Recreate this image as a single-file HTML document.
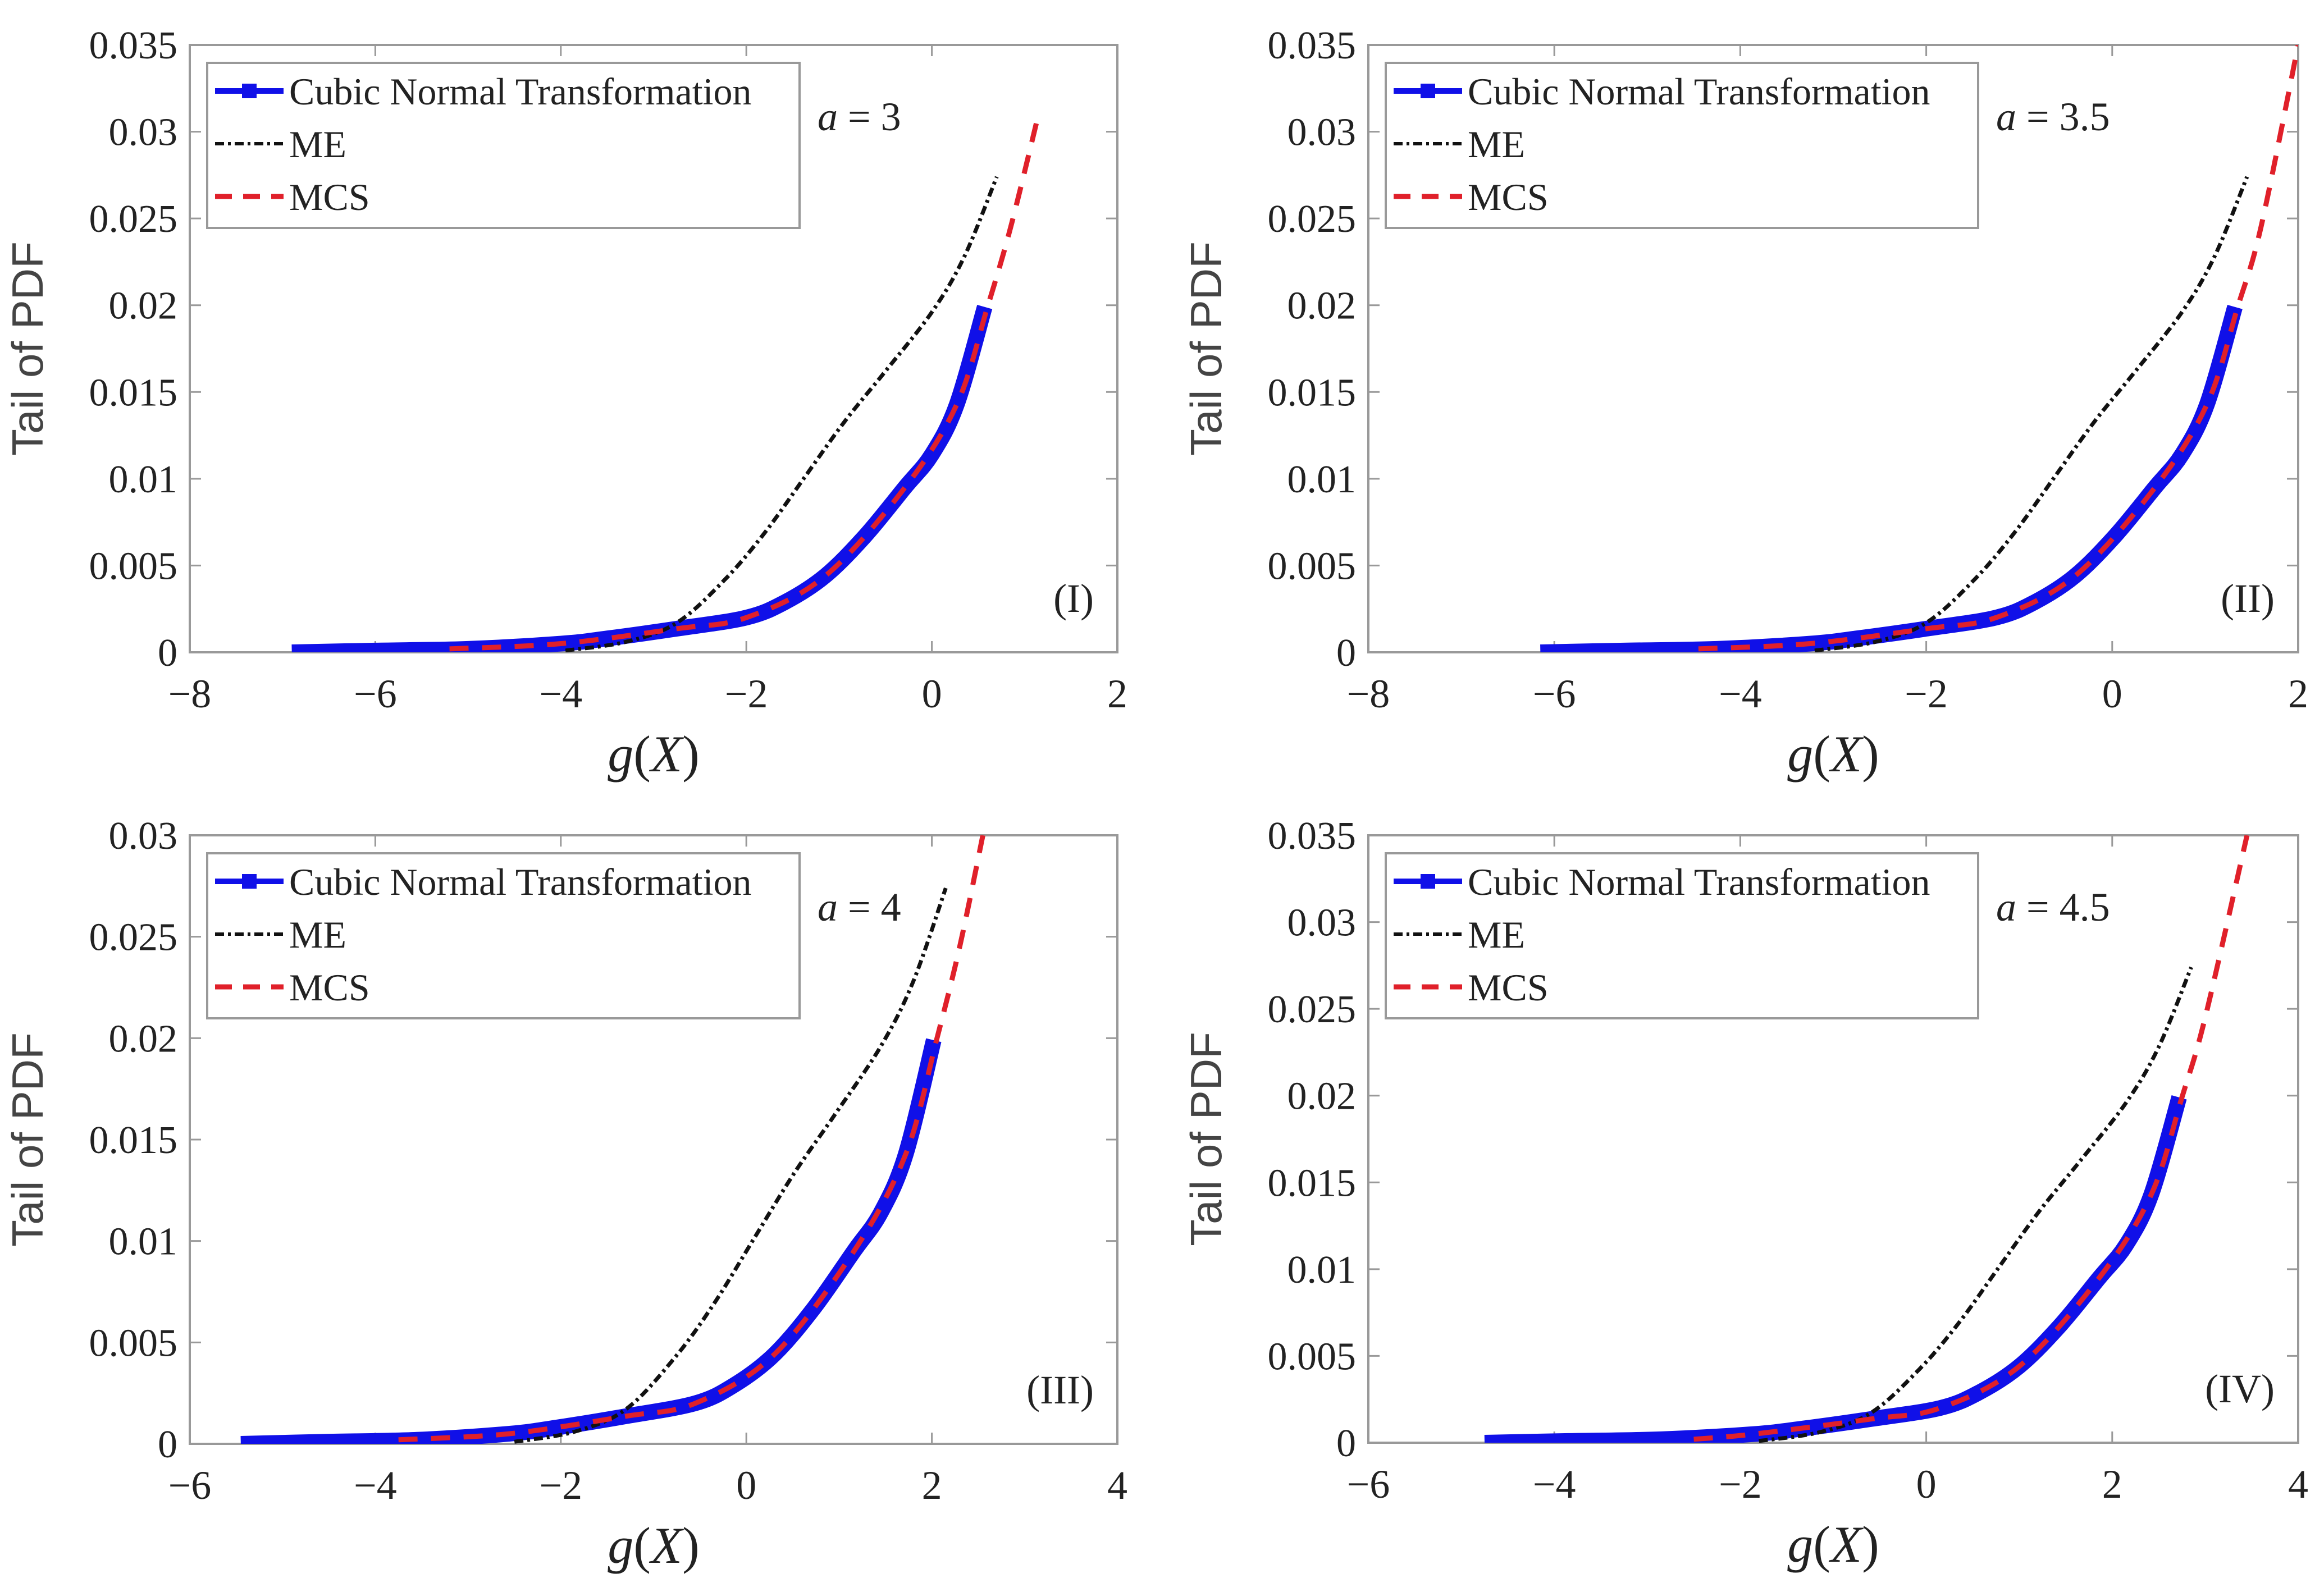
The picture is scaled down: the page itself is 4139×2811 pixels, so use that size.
<!DOCTYPE html>
<html><head><meta charset="utf-8"><style>
html,body{margin:0;padding:0;background:#fff}
svg{display:block}
text{font-family:"Liberation Serif",serif;fill:#222}
</style></head><body>
<svg id="fig" width="4139" height="2811" viewBox="0 0 4139 2811" xmlns="http://www.w3.org/2000/svg"></svg>
<script>
// Panel I (a = 3)
const p1CntX=[-6.9,-6,-5,-4,-3.5,-2.75,-2,-1.58,-1.15,-0.72,-0.29,0,0.27,0.57];
const p1CntY=[0,0.0001,0.0002,0.0005,0.0008,0.00136,0.002,0.0029,0.0044,0.0067,0.0095,0.0114,0.0143,0.0199];
const p1McsX=[-5.2,-4,-2.75,-2,-1.15,-0.29,0.27,0.6,0.85,1.15];
const p1McsY=[0.0002,0.0005,0.00136,0.002,0.0044,0.0095,0.0143,0.0199,0.0245,0.031];
const p1MeX=[-3.95,-3.3,-2.75,-2.23,-1.8,-1.37,-0.94,-0.5,0,0.35,0.7];
const p1MeY=[0.0001,0.0006,0.0017,0.0042,0.0069,0.0101,0.0133,0.0162,0.0196,0.0228,0.0274];
// Panel II (a = 3.5)
const p2CntX=[-6.15,-5.25,-4.25,-3.25,-2.75,-2,-1.25,-0.83,-0.4,0.03,0.46,0.75,1.02,1.32];
const p2CntY=[0,0.0001,0.0002,0.0005,0.0008,0.00136,0.002,0.0029,0.0044,0.0067,0.0095,0.0114,0.0143,0.0199];
const p2McsX=[-4.45,-3.25,-2,-1.25,-0.4,0.46,1.02,1.35,1.6,2.0];
const p2McsY=[0.0002,0.0005,0.00136,0.002,0.0044,0.0095,0.0143,0.0199,0.0245,0.035];
const p2MeX=[-3.2,-2.55,-2,-1.48,-1.05,-0.62,-0.19,0.25,0.75,1.1,1.45];
const p2MeY=[0.0001,0.0006,0.0017,0.0042,0.0069,0.0101,0.0133,0.0162,0.0196,0.0228,0.0274];
// Panel III (a = 4)
const p3CntX=[-5.45,-4.55,-3.55,-2.55,-2.05,-1.3,-0.55,-0.13,0.3,0.73,1.16,1.45,1.72,2.02];
const p3CntY=[0,0.0001,0.0002,0.0005,0.0008,0.00136,0.002,0.0029,0.0044,0.0067,0.0095,0.0114,0.0143,0.0199];
const p3McsX=[-3.75,-2.55,-1.3,-0.55,0.3,1.16,1.72,2.05,2.3,2.55];
const p3McsY=[0.0002,0.0005,0.00136,0.002,0.0044,0.0095,0.0143,0.0199,0.0245,0.030];
const p3MeX=[-2.5,-1.85,-1.3,-0.78,-0.35,0.08,0.51,0.95,1.45,1.8,2.15];
const p3MeY=[0.0001,0.0006,0.0017,0.0042,0.0069,0.0101,0.0133,0.0162,0.0196,0.0228,0.0274];
// Panel IV (a = 4.5)
const p4CntX=[-4.75,-3.85,-2.85,-1.85,-1.35,-0.6,0.15,0.57,1.0,1.43,1.86,2.15,2.42,2.72];
const p4CntY=[0,0.0001,0.0002,0.0005,0.0008,0.00136,0.002,0.0029,0.0044,0.0067,0.0095,0.0114,0.0143,0.0199];
const p4McsX=[-2.5,-1.85,-0.6,0.15,1.0,1.86,2.42,2.75,3.0,3.45];
const p4McsY=[0.0002,0.0005,0.00136,0.002,0.0044,0.0095,0.0143,0.0199,0.0245,0.035];
const p4MeX=[-1.8,-1.15,-0.6,-0.08,0.35,0.78,1.21,1.65,2.15,2.5,2.85];
const p4MeY=[0.0001,0.0006,0.0017,0.0042,0.0069,0.0101,0.0133,0.0162,0.0196,0.0228,0.0274];
// Tick labels
const xTicksA=[-8,-6,-4,-2,0,2];
const xTicksB=[-6,-4,-2,0,2,4];
const yTicks35=["0","0.005","0.01","0.015","0.02","0.025","0.03","0.035"];
const yTicks30=["0","0.005","0.01","0.015","0.02","0.025","0.03"];
const aLabels=["3","3.5","4","4.5"];
const romanLabels=["(I)","(II)","(III)","(IV)"];
const legendLabels=["Cubic Normal Transformation","ME","MCS"];

const NS="http://www.w3.org/2000/svg";
const svg=document.getElementById('fig');
function mk(tag,attrs,parent){const e=document.createElementNS(NS,tag);for(const k in attrs)e.setAttribute(k,attrs[k]);(parent||svg).appendChild(e);return e;}
function smooth(pts){
  let d="M"+pts[0][0]+","+pts[0][1];
  for(let i=0;i<pts.length-1;i++){
    const p0=pts[Math.max(0,i-1)],p1=pts[i],p2=pts[i+1],p3=pts[Math.min(pts.length-1,i+2)];
    const c1=[p1[0]+(p2[0]-p0[0])/6,p1[1]+(p2[1]-p0[1])/6];
    const c2=[p2[0]-(p3[0]-p1[0])/6,p2[1]-(p3[1]-p1[1])/6];
    d+=" C"+c1[0]+","+c1[1]+" "+c2[0]+","+c2[1]+" "+p2[0]+","+p2[1];
  }
  return d;
}
const panels=[
 {L:338,R:1990,T:80,B:1162,xt:xTicksA,yt:yTicks35,ymax:0.035,cnt:[p1CntX,p1CntY],mcs:[p1McsX,p1McsY],me:[p1MeX,p1MeY]},
 {L:2437,R:4093,T:80,B:1162,xt:xTicksA,yt:yTicks35,ymax:0.035,cnt:[p2CntX,p2CntY],mcs:[p2McsX,p2McsY],me:[p2MeX,p2MeY]},
 {L:338,R:1990,T:1488,B:2572,xt:xTicksB,yt:yTicks30,ymax:0.030,cnt:[p3CntX,p3CntY],mcs:[p3McsX,p3McsY],me:[p3MeX,p3MeY]},
 {L:2437,R:4093,T:1488,B:2570,xt:xTicksB,yt:yTicks35,ymax:0.035,cnt:[p4CntX,p4CntY],mcs:[p4McsX,p4McsY],me:[p4MeX,p4MeY]}
];
panels.forEach((p,idx)=>{
  const g=mk('g',{});
  
  
  const xmin=p.xt[0],xmax=p.xt[p.xt.length-1];
  const sx=v=>p.L+(v-xmin)/(xmax-xmin)*(p.R-p.L);
  const sy=v=>p.B-v/p.ymax*(p.B-p.T);
  const clipId='clip'+idx;
  const cp=mk('clipPath',{id:clipId},g);
  mk('rect',{x:p.L,y:p.T,width:p.R-p.L,height:p.B-p.T},cp);
  p.xt.forEach(v=>{
    const x=sx(v);
    const t1=mk('line',{x1:x,y1:p.B,x2:x,y2:p.B-20,stroke:'#999','stroke-width':3},g);
    
    mk('line',{x1:x,y1:p.T,x2:x,y2:p.T+20,stroke:'#999','stroke-width':3},g);
    const t=mk('text',{x:x,y:p.B+98,'font-size':72,'text-anchor':'middle'},g);
    t.textContent=(v<0?'\u2212':'')+Math.abs(v);
    
  });
  p.yt.forEach((lab,i)=>{
    const y=sy(i*0.005);
    mk('line',{x1:p.L,y1:y,x2:p.L+20,y2:y,stroke:'#999','stroke-width':3},g);
    mk('line',{x1:p.R,y1:y,x2:p.R-20,y2:y,stroke:'#999','stroke-width':3},g);
    const t=mk('text',{x:p.L-22,y:y+24,'font-size':70,'text-anchor':'end'},g);
    t.textContent=lab;
    
  });
  const box=mk('rect',{x:p.L,y:p.T,width:p.R-p.L,height:p.B-p.T,fill:'none',stroke:'#999','stroke-width':4},g);
  
  const pts=a=>a[0].map((x,i)=>[sx(x),sy(a[1][i])]);
  const c=mk('path',{d:smooth(pts(p.cnt)),fill:'none',stroke:'#1010e8','stroke-width':28,'clip-path':'url(#'+clipId+')'},g);
  
  const me=mk('path',{d:smooth(pts(p.me)),fill:'none',stroke:'#111','stroke-width':7,'stroke-dasharray':'16 7 5 7','clip-path':'url(#'+clipId+')'},g);
  
  const mc=mk('path',{d:smooth(pts(p.mcs)),fill:'none',stroke:'#e0202a','stroke-width':9,'stroke-dasharray':'34 24','clip-path':'url(#'+clipId+')'},g);
  
  const lg=mk('g',{},g);
  
  const lx=p.L+31,ly=p.T+32;
  mk('rect',{x:lx,y:ly,width:1055,height:294,fill:'#fff',stroke:'#999','stroke-width':4},lg);
  const rows=[50,144,238];
  const styles=[{stroke:'#1010e8','stroke-width':10},{stroke:'#111','stroke-width':6,'stroke-dasharray':'16 7 5 7'},{stroke:'#e0202a','stroke-width':9,'stroke-dasharray':'30 20'}];
  rows.forEach((r,i)=>{
    const a=Object.assign({x1:lx+14,y1:ly+r,x2:lx+136,y2:ly+r,fill:'none'},styles[i]);
    mk('line',a,lg);
    if(i===0) mk('rect',{x:lx+62,y:ly+r-13,width:26,height:26,fill:'#1010e8'},lg);
    const t=mk('text',{x:lx+146,y:ly+r+24,'font-size':68},lg);
    t.textContent=legendLabels[i];
    
  });
  const at=mk('text',{x:p.L+1118,y:p.T+152,'font-size':72},g);
  at.innerHTML='<tspan font-style="italic">a</tspan> = '+aLabels[idx];
  
  const rt=mk('text',{x:p.R-42,y:p.B-72,'font-size':72,'text-anchor':'end'},g);
  rt.textContent=romanLabels[idx];
  
  const xl=mk('text',{x:(p.L+p.R)/2,y:p.B+212,'font-size':92,'text-anchor':'middle'},g);
  xl.innerHTML='<tspan font-style="italic">g</tspan>(<tspan font-style="italic">X</tspan>)';
  
  const cy=(p.T+p.B)/2, cx=p.L-262;
  const yl=mk('text',{x:cx,y:cy,'font-size':78,'text-anchor':'middle',transform:'rotate(-90 '+cx+' '+cy+')',style:'font-family:"Liberation Sans",sans-serif;fill:#444'},g);
  yl.textContent='Tail of PDF';
  
});
</script>
</body></html>
